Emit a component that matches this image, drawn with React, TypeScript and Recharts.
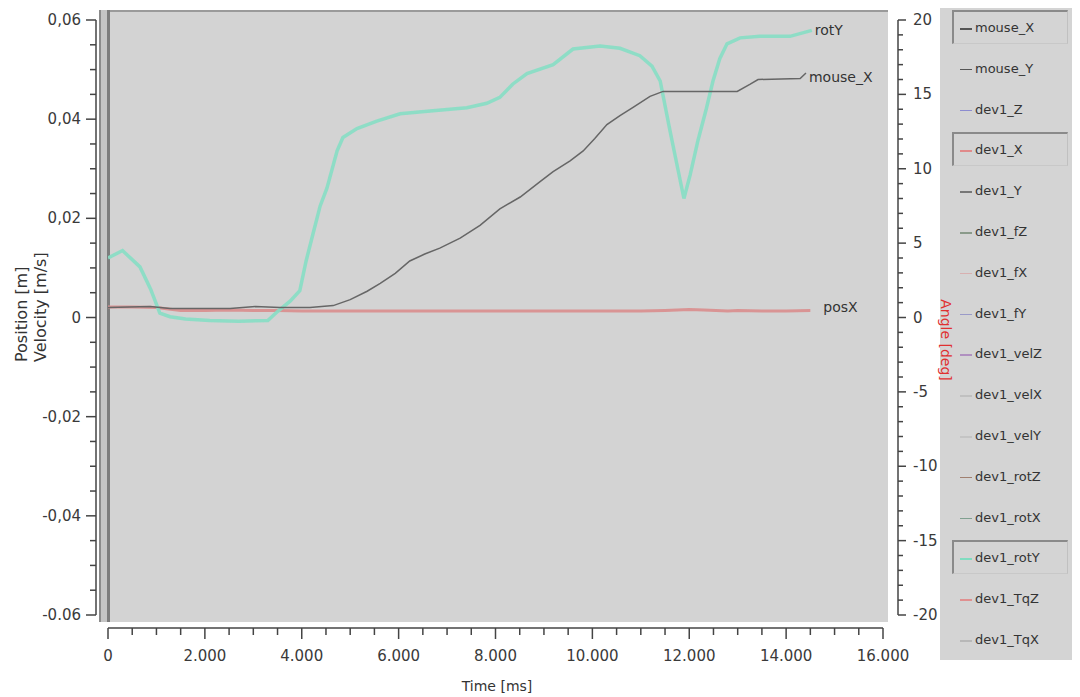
import React from "react";
import { LineChart, Line, XAxis, YAxis, Legend } from "recharts";

// [time ms, angle deg]
const rotY: [number, number][] = [
  [0, 4.0], [300, 4.5], [660, 3.4], [880, 1.9], [1070, 0.3], [1280, 0.05], [1600, -0.1],
  [2100, -0.2], [2700, -0.25], [3300, -0.2], [3500, 0.4], [3760, 1.1], [3960, 1.8],
  [4090, 3.8], [4230, 5.6], [4380, 7.5], [4520, 8.7], [4730, 11.2], [4850, 12.1],
  [5140, 12.7], [5550, 13.2], [6030, 13.7], [6710, 13.9], [7410, 14.1], [7820, 14.4],
  [8090, 14.8], [8360, 15.7], [8650, 16.4], [9190, 17.0], [9600, 18.05], [10160, 18.25],
  [10570, 18.1], [10980, 17.6], [11230, 16.9], [11400, 15.9], [11600, 12.6], [11770, 9.9],
  [11890, 8.0], [12020, 9.6], [12180, 11.9], [12350, 14.0], [12490, 15.9], [12630, 17.4],
  [12780, 18.4], [13050, 18.8], [13460, 18.9], [14080, 18.9], [14530, 19.3],
];

// [time ms, position m]
const mouseX: [number, number][] = [
  [0, 0.002], [870, 0.0022], [1280, 0.0018], [1900, 0.0018], [2520, 0.0018], [3040, 0.0022],
  [3550, 0.002], [4170, 0.002], [4650, 0.0024], [5000, 0.0036], [5350, 0.0053], [5620, 0.0069],
  [5930, 0.0089], [6230, 0.0114], [6540, 0.0128], [6850, 0.014], [7270, 0.016], [7680, 0.0186],
  [8090, 0.0219], [8510, 0.0243], [8920, 0.0274], [9190, 0.0294], [9540, 0.0316], [9810, 0.0336],
  [10050, 0.0361], [10300, 0.0389], [10570, 0.0407], [10840, 0.0424], [11190, 0.0446],
  [11460, 0.0456], [12220, 0.0456], [12990, 0.0456], [13250, 0.047], [13420, 0.048],
  [14290, 0.0482], [14410, 0.0493],
];

// [time ms, position m]
const posX: [number, number][] = [
  [0, 0.0021], [500, 0.0021], [1000, 0.002], [1500, 0.0014], [2000, 0.0014], [2500, 0.0015],
  [3000, 0.0014], [3500, 0.0014], [4000, 0.0013], [5000, 0.0013], [6000, 0.0013], [7000, 0.0013],
  [8000, 0.0013], [9000, 0.0013], [10000, 0.0013], [11000, 0.0013], [11500, 0.0014],
  [12000, 0.0016], [12300, 0.0015], [12800, 0.0013], [13000, 0.0014], [13500, 0.0013],
  [14000, 0.0013], [14500, 0.0014],
];

const timeMajor = [0, 2000, 4000, 6000, 8000, 10000, 12000, 14000, 16000];
const timeLabels = ["0", "2.000", "4.000", "6.000", "8.000", "10.000", "12.000", "14.000", "16.000"];
const posMajor = [-0.06, -0.04, -0.02, 0, 0.02, 0.04, 0.06];
const posLabels = ["-0.06", "-0,04", "-0,02", "0", "0,02", "0,04", "0,06"];
const angleMajor = [-20, -15, -10, -5, 0, 5, 10, 15, 20];
const angleLabels = ["-20", "-15", "-10", "-5", "0", "5", "10", "15", "20"];

const legendNames = [
  "mouse_X", "mouse_Y", "dev1_Z", "dev1_X", "dev1_Y", "dev1_fZ", "dev1_fX", "dev1_fY",
  "dev1_velZ", "dev1_velX", "dev1_velY", "dev1_rotZ", "dev1_rotX", "dev1_rotY", "dev1_TqZ", "dev1_TqX",
];
const legendColors = [
  "#555", "#555", "#8c8cd0", "#e08a8a", "#777", "#8a9a8a", "#d8b0b0", "#9a9ac8",
  "#b090c0", "#c0c0c0", "#c4c4c4", "#a08070", "#80a090", "#80dcc0", "#e09090", "#b8b8b8",
];
const legendFramed = ["mouse_X", "dev1_X", "dev1_rotY"];

const FONT = "'DejaVu Sans', sans-serif";

// split each major interval into n minor steps
function withMinor(major: number[], n: number) {
  const out: number[] = [];
  for (let i = 0; i < major.length - 1; i++) {
    for (let k = 0; k < n; k++) out.push(major[i] + ((major[i + 1] - major[i]) * k) / n);
  }
  out.push(major[major.length - 1]);
  return out;
}

const toRows = (pts: [number, number][]) => pts.map(([t, v]) => ({ t, v }));

// axis lines sit a few px outside the plot box, like the original
const LeftTick = (props: any) => {
  const { x, y, index } = props;
  const major = index % 4 === 0;
  const ax = x - 12;
  return (
    <g>
      <line x1={ax} x2={ax - (major ? 10 : 6)} y1={y} y2={y} stroke="#444" strokeWidth={1.5} />
      {major && (
        <text x={ax - 15} y={y} dy={5} textAnchor="end" fontSize={15} fill="#3a3a3a" fontFamily={FONT}>
          {posLabels[index / 4]}
        </text>
      )}
    </g>
  );
};

const RightTick = (props: any) => {
  const { x, y, index } = props;
  const major = index % 5 === 0;
  const ax = x + 15;
  return (
    <g>
      <line x1={ax} x2={ax + (major ? 8 : 5)} y1={y} y2={y} stroke="#444" strokeWidth={1.5} />
      {major && (
        <text x={ax + 15} y={y} dy={5} textAnchor="start" fontSize={15} fill="#3a3a3a" fontFamily={FONT}>
          {angleLabels[index / 5]}
        </text>
      )}
    </g>
  );
};

const BottomTick = (props: any) => {
  const { x, y, index } = props;
  const major = index % 4 === 0;
  const ay = y + 13;
  return (
    <g>
      <line x1={x} x2={x} y1={ay} y2={ay + (major ? 11 : 7)} stroke="#444" strokeWidth={1.5} />
      {major && (
        <text x={x} y={ay + 33} textAnchor="middle" fontSize={15} fill="#3a3a3a" fontFamily={FONT}>
          {timeLabels[index / 4]}
        </text>
      )}
    </g>
  );
};

const endLabel = (name: string, count: number, dx: number, dy: number) => (p: any) =>
  p.index === count - 1 ? (
    <text x={p.x + dx} y={p.y + dy} dy={5} fontSize={14} fill="#333" fontFamily={FONT}>
      {name}
    </text>
  ) : null;

const renderLegend = () => (
  <div style={{ position: "relative", width: "100%", height: "100%", fontFamily: FONT }}>
    {legendNames.map((name, i) => {
      const framed = legendFramed.includes(name);
      return (
        <div
          key={name}
          style={{
            position: "absolute",
            left: 12,
            top: 2 + 40.8 * i,
            width: 116,
            height: 34,
            boxSizing: "border-box",
            borderTop: framed ? "2px solid #8a8a8a" : "none",
            borderLeft: framed ? "2px solid #8a8a8a" : "none",
            borderRight: framed ? "1px solid #c0c0c0" : "none",
            borderBottom: framed ? "1px solid #c8c8c8" : "none",
          }}
        >
          <div
            style={{
              position: "absolute",
              left: framed ? 6 : 8,
              top: framed ? 16 : 18,
              width: 12,
              height: 1.5,
              background: legendColors[i],
            }}
          />
          <div
            style={{
              position: "absolute",
              left: framed ? 21 : 23,
              top: framed ? 8 : 10,
              fontSize: 13,
              color: "#333",
              lineHeight: "16px",
              whiteSpace: "nowrap",
            }}
          >
            {name}
          </div>
        </div>
      );
    })}
  </div>
);

export default function App() {
  const rotYData = toRows(rotY);
  const mouseXData = toRows(mouseX);
  const posXData = toRows(posX);

  return (
    <div style={{ position: "absolute", left: 0, top: 0, width: 1080, height: 697, background: "#fff", fontFamily: FONT }}>
      {/* plot panel background */}
      <div style={{ position: "absolute", left: 99, top: 10, width: 11, height: 612, boxSizing: "border-box", background: "#c4c4c4", borderLeft: "2px solid #8a8a8a", borderRight: "3px solid #7c7c7c" }} />
      <div style={{ position: "absolute", left: 110, top: 10, width: 778, height: 612, boxSizing: "border-box", background: "#d3d3d3", borderTop: "2px solid #9a9a9a" }} />

      <div style={{ position: "absolute", left: 0, top: 0 }}>
        <LineChart width={1080} height={697} margin={{ top: 20, right: 157, bottom: 42, left: 68 }}>
          <XAxis
            xAxisId="t"
            dataKey="t"
            type="number"
            domain={[0, 16000]}
            ticks={withMinor(timeMajor, 4)}
            interval={0}
            height={40}
            tickSize={0}
            tickMargin={0}
            tickLine={false}
            tick={<BottomTick />}
            axisLine={{ stroke: "#444", strokeWidth: 1.5, transform: "translate(0 13)" }}
            allowDataOverflow
          />
          <YAxis
            yAxisId="pos"
            type="number"
            domain={[-0.06, 0.06]}
            ticks={withMinor(posMajor, 4)}
            interval={0}
            width={40}
            tickSize={0}
            tickMargin={0}
            tickLine={false}
            tick={<LeftTick />}
            axisLine={{ stroke: "#444", strokeWidth: 1.5, transform: "translate(-12 0)" }}
            allowDataOverflow
          />
          <YAxis
            yAxisId="ang"
            orientation="right"
            type="number"
            domain={[-20, 20]}
            ticks={withMinor(angleMajor, 5)}
            interval={0}
            width={40}
            tickSize={0}
            tickMargin={0}
            tickLine={false}
            tick={<RightTick />}
            axisLine={{ stroke: "#444", strokeWidth: 1.5, transform: "translate(15 0)" }}
            allowDataOverflow
          />
          <Legend
            layout="vertical"
            align="center"
            verticalAlign="middle"
            content={renderLegend}
            wrapperStyle={{ left: 940, top: 8, width: 132, height: 652, background: "#d4d4d4" }}
          />
          <Line
            xAxisId="t"
            yAxisId="pos"
            data={posXData}
            dataKey="v"
            name="posX"
            type="linear"
            stroke="#d99494"
            strokeWidth={3}
            dot={false}
            isAnimationActive={false}
            label={endLabel("posX", posXData.length, 13, -4)}
          />
          <Line
            xAxisId="t"
            yAxisId="ang"
            data={rotYData}
            dataKey="v"
            name="rotY"
            type="linear"
            stroke="#86dec4"
            strokeOpacity={0.9}
            strokeWidth={3.5}
            dot={false}
            isAnimationActive={false}
            label={endLabel("rotY", rotYData.length, 3, 0)}
          />
          <Line
            xAxisId="t"
            yAxisId="pos"
            data={mouseXData}
            dataKey="v"
            name="mouse_X"
            type="linear"
            stroke="#666"
            strokeWidth={1.5}
            dot={false}
            isAnimationActive={false}
            label={endLabel("mouse_X", mouseXData.length, 3, 4)}
          />
        </LineChart>
      </div>

      {/* axis titles */}
      <svg width={1080} height={697} style={{ position: "absolute", left: 0, top: 0, pointerEvents: "none" }}>
        <text x={21} y={362} transform="rotate(-90 21 362)" dominantBaseline="central" fontSize={16} fill="#333" fontFamily={FONT}>
          Position [m]
        </text>
        <text x={40} y={362} transform="rotate(-90 40 362)" dominantBaseline="central" fontSize={16} fill="#333" fontFamily={FONT}>
          Velocity [m/s]
        </text>
        <text x={497} y={686} textAnchor="middle" dominantBaseline="central" fontSize={14} fill="#333" fontFamily={FONT}>
          Time [ms]
        </text>
        <text x={946} y={340} transform="rotate(90 946 340)" textAnchor="middle" dominantBaseline="central" fontSize={14} fill="#e03030" fontFamily={FONT}>
          Angle [deg]
        </text>
      </svg>
    </div>
  );
}
